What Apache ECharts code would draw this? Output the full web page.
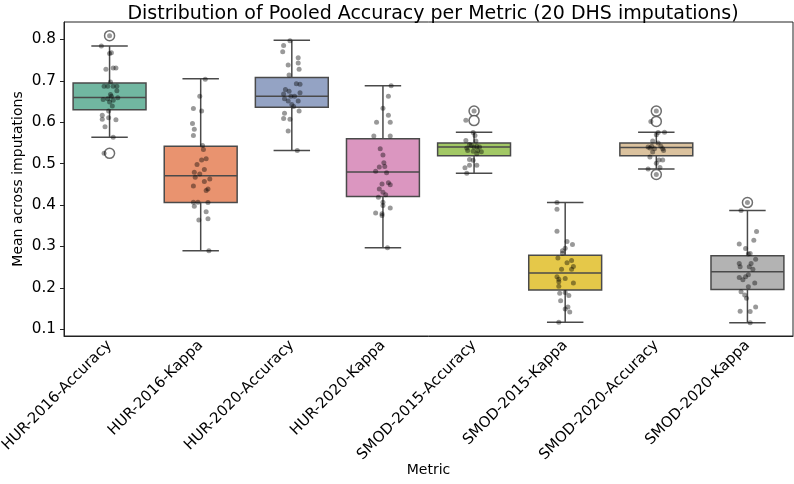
<!DOCTYPE html>
<html>
<head>
<meta charset="utf-8">
<script src="https://cdn.jsdelivr.net/npm/echarts@6/dist/echarts.min.js"></script>
<style>
  html, body { margin: 0; padding: 0; background: #fff; }
  #chart { width: 794px; height: 484px; }
</style>
</head>
<body>
<div id="chart"></div>
<script>
// metrics on the x axis
const categories = [
  'HUR-2016-Accuracy', 'HUR-2016-Kappa', 'HUR-2020-Accuracy', 'HUR-2020-Kappa',
  'SMOD-2015-Accuracy', 'SMOD-2015-Kappa', 'SMOD-2020-Accuracy', 'SMOD-2020-Kappa'
];

// box statistics
const whiskerLow  = [0.564, 0.290, 0.532, 0.297, 0.477, 0.117, 0.487, 0.116];
const q1          = [0.630, 0.406, 0.636, 0.421, 0.519, 0.195, 0.519, 0.196];
const median      = [0.660, 0.471, 0.663, 0.480, 0.540, 0.236, 0.539, 0.239];
const q3          = [0.695, 0.542, 0.708, 0.560, 0.550, 0.279, 0.550, 0.278];
const whiskerHigh = [0.784, 0.705, 0.798, 0.688, 0.576, 0.406, 0.576, 0.387];

// fliers: [category index, value]
const outliers = [
  [0, 0.809], [0, 0.525],
  [4, 0.627], [4, 0.604],
  [6, 0.627], [6, 0.602], [6, 0.474],
  [7, 0.406]
];

// strip points per metric
const stripValues = [
  [0.809, 0.784, 0.766, 0.768, 0.728, 0.731, 0.731, 0.697, 0.687, 0.687, 0.687, 0.687, 0.676, 0.667, 0.663,
   0.655, 0.657, 0.649, 0.653, 0.659, 0.639, 0.627, 0.617, 0.607, 0.611, 0.606, 0.589, 0.564, 0.525],
  [0.704, 0.663, 0.633, 0.627, 0.597, 0.583, 0.568, 0.544, 0.534, 0.509, 0.512, 0.498, 0.486, 0.479, 0.475,
   0.467, 0.463, 0.457, 0.446, 0.439, 0.435, 0.407, 0.407, 0.406, 0.397, 0.384, 0.364, 0.367, 0.290],
  [0.797, 0.785, 0.770, 0.756, 0.743, 0.738, 0.728, 0.714, 0.693, 0.692, 0.679, 0.675, 0.671, 0.668,
   0.663, 0.663, 0.657, 0.651, 0.651, 0.643, 0.638, 0.627, 0.622, 0.609, 0.607, 0.579, 0.532],
  [0.688, 0.663, 0.634, 0.617, 0.600, 0.600, 0.567, 0.567, 0.536, 0.521, 0.502, 0.492, 0.493, 0.482, 0.478,
   0.451, 0.454, 0.449, 0.431, 0.439, 0.425, 0.419, 0.407, 0.399, 0.393, 0.381, 0.379, 0.375, 0.297],
  [0.627, 0.605, 0.575, 0.568, 0.556, 0.555, 0.546, 0.544, 0.538, 0.540, 0.542, 0.540, 0.532, 0.530,
   0.532, 0.529, 0.524, 0.510, 0.508, 0.496, 0.496, 0.490, 0.477],
  [0.406, 0.390, 0.337, 0.312, 0.305, 0.296, 0.290, 0.284, 0.272, 0.261, 0.266, 0.252, 0.245, 0.245,
   0.227, 0.221, 0.215, 0.223, 0.212, 0.204, 0.189, 0.187, 0.182, 0.169, 0.154, 0.149, 0.142, 0.117],
  [0.627, 0.602, 0.575, 0.576, 0.570, 0.555, 0.550, 0.540, 0.538, 0.542, 0.536, 0.542, 0.532, 0.536,
   0.528, 0.516, 0.509, 0.509, 0.501, 0.491, 0.487, 0.474],
  [0.406, 0.387, 0.336, 0.315, 0.306, 0.295, 0.283, 0.282, 0.269, 0.259, 0.259, 0.251, 0.251, 0.245,
   0.232, 0.225, 0.227, 0.220, 0.212, 0.203, 0.191, 0.183, 0.175, 0.154, 0.144, 0.143, 0.116]
];

// horizontal jitter of each strip point (fraction of a category step)
const stripJitter = [
  [0, -0.09, 0, 0.02, -0.04, 0.04, 0.07, 0.01, -0.06, -0.02, 0.04, 0.08, 0.08, 0.01, 0.02,
   -0.07, -0.02, 0, 0.04, 0.09, 0.03, -0.01, -0.08, -0.08, -0.01, 0.07, -0.05, 0.04, -0.06],
  [0.05, -0.01, -0.08, 0.01, -0.09, -0.07, -0.08, 0.02, 0.03, 0.01, 0.06, -0.04, 0.04, -0.07, -0.01,
   -0.06, 0.10, 0.04, -0.08, 0.08, 0.06, -0.08, -0.03, 0.08, -0.07, 0.06, -0.02, 0.08, 0.09],
  [-0.02, -0.09, -0.10, 0.07, 0.07, -0.04, 0.08, -0.03, 0.05, 0.09, -0.07, -0.03, 0.09, -0.09,
   -0.01, 0.03, -0.08, -0.04, 0.07, 0, 0.02, 0.08, -0.08, -0.09, -0.02, -0.04, 0.06],
  [0.09, 0.06, 0, 0.06, -0.07, 0.08, -0.10, 0.08, -0.03, 0, 0.01, -0.04, 0.02, -0.08, 0.04,
   -0.01, 0.06, 0.08, 0, -0.04, 0.03, -0.05, 0, 0, 0.08, -0.08, -0.01, -0.01, 0.05],
  [0, -0.09, -0.01, 0.01, -0.09, 0.02, -0.05, -0.03, -0.08, 0, 0.03, 0.06, -0.07, -0.01,
   0.04, 0.08, 0.03, -0.05, -0.01, -0.05, 0.03, -0.10, -0.08],
  [-0.09, -0.09, -0.09, 0.02, 0.08, 0, -0.03, -0.03, -0.08, 0.02, 0.07, 0.09, 0.07, -0.04,
   -0.09, -0.07, -0.07, 0, 0.09, -0.07, 0, -0.06, 0.04, -0.05, 0.03, 0, 0.05, -0.07],
  [0, -0.06, 0.02, 0.09, 0, -0.04, 0.02, -0.09, -0.07, -0.05, -0.02, 0.05, 0.08, 0.07,
   -0.04, -0.07, 0.03, 0.07, 0, 0.04, -0.09, 0],
  [0, -0.07, 0.10, 0.07, -0.09, -0.02, 0.03, 0.01, 0.09, -0.09, 0.04, -0.08, 0.02, 0.06,
   0.01, -0.09, -0.02, -0.05, 0.08, 0.01, -0.07, -0.03, -0.01, 0.09, -0.08, 0.03, 0.03]
];

const yTicks = [0.1, 0.2, 0.3, 0.4, 0.5, 0.6, 0.7, 0.8];

const boxColors = ['#71b7a1', '#e9936f', '#94a3c4', '#db96c0', '#a2c865', '#e5c849', '#dbc29e', '#b3b3b3'];
const lineColor = '#4a4a4a';
const font = 'DejaVu Sans';

let boxData = categories.map((c, i) => [i, whiskerLow[i], q1[i], median[i], q3[i], whiskerHigh[i]]);
let stripData = [];
stripValues.forEach((vals, i) => {
  vals.forEach((v, k) => stripData.push([i + stripJitter[i][k], v]));
});

function renderBox(params, api) {
  let i = api.value(0);
  let band = api.size([1, 0])[0];
  let half = band * 0.4;
  let cap = band * 0.2;
  let x = api.coord([i, 0])[0];
  let y = k => api.coord([i, api.value(k)])[1];
  let yLow = y(1), yQ1 = y(2), yMed = y(3), yQ3 = y(4), yHigh = y(5);
  let ls = { stroke: lineColor, lineWidth: 1.5 };
  return {
    type: 'group',
    children: [
      { type: 'line', shape: { x1: x, y1: yHigh, x2: x, y2: yQ3 }, style: ls },
      { type: 'line', shape: { x1: x, y1: yQ1, x2: x, y2: yLow }, style: ls },
      { type: 'line', shape: { x1: x - cap, y1: yHigh, x2: x + cap, y2: yHigh }, style: ls },
      { type: 'line', shape: { x1: x - cap, y1: yLow, x2: x + cap, y2: yLow }, style: ls },
      { type: 'rect', shape: { x: x - half, y: yQ3, width: half * 2, height: yQ1 - yQ3 },
        style: { fill: boxColors[i], stroke: lineColor, lineWidth: 1.5 } },
      { type: 'line', shape: { x1: x - half, y1: yMed, x2: x + half, y2: yMed }, style: ls }
    ]
  };
}

let option = {
  animation: false,
  textStyle: { fontFamily: font },
  title: {
    text: 'Distribution of Pooled Accuracy per Metric (20 DHS imputations)',
    left: 428,
    textAlign: 'center',
    top: 0,
    textStyle: { fontFamily: font, fontSize: 19, fontWeight: 'normal', color: '#000' }
  },
  grid: {
    left: 64, right: 1, top: 22, bottom: 148,
    outerBoundsMode: 'none',
    containLabel: false,
    show: true, borderColor: '#222', borderWidth: 1
  },
  xAxis: [{
    type: 'category',
    data: categories,
    name: 'Metric',
    nameLocation: 'middle',
    nameGap: 127,
    nameMoveOverlap: false,
    nameTextStyle: { fontFamily: font, fontSize: 14, color: '#000' },
    axisLine: { onZero: false, lineStyle: { color: '#222' } },
    axisTick: { alignWithLabel: true, length: 4, lineStyle: { color: '#222' } },
    axisLabel: { rotate: 45, margin: 7, fontFamily: font, fontSize: 14.9, color: '#000' },
    splitLine: { show: false }
  }, {
    type: 'value',
    min: -0.5, max: 7.5,
    show: false
  }],
  yAxis: {
    type: 'value',
    min: 0.084, max: 0.842,
    name: 'Mean across imputations',
    nameLocation: 'middle',
    nameGap: 39,
    nameMoveOverlap: false,
    nameTextStyle: { fontFamily: font, fontSize: 14, color: '#000' },
    axisLine: { show: true, onZero: false, lineStyle: { color: '#222' } },
    axisTick: { show: true, length: 4, customValues: yTicks, lineStyle: { color: '#222' } },
    axisLabel: { customValues: yTicks, formatter: v => v.toFixed(1), fontFamily: font, fontSize: 15.2, color: '#000', margin: 8 },
    splitLine: { show: false }
  },
  series: [{
    type: 'custom',
    renderItem: renderBox,
    data: boxData,
    encode: { x: 0, y: [1, 2, 3, 4, 5] },
    z: 2
  }, {
    type: 'scatter',
    xAxisIndex: 0,
    data: outliers,
    symbol: 'circle',
    symbolSize: 10,
    itemStyle: { color: '#fff', borderColor: lineColor, borderWidth: 1.5 },
    z: 3
  }, {
    type: 'scatter',
    xAxisIndex: 1,
    data: stripData,
    symbolSize: 5,
    itemStyle: { color: 'rgba(0,0,0,0.5)' },
    z: 4
  }]
};

let myChart = echarts.init(document.getElementById('chart'));
myChart.setOption(option);
</script>
</body>
</html>
